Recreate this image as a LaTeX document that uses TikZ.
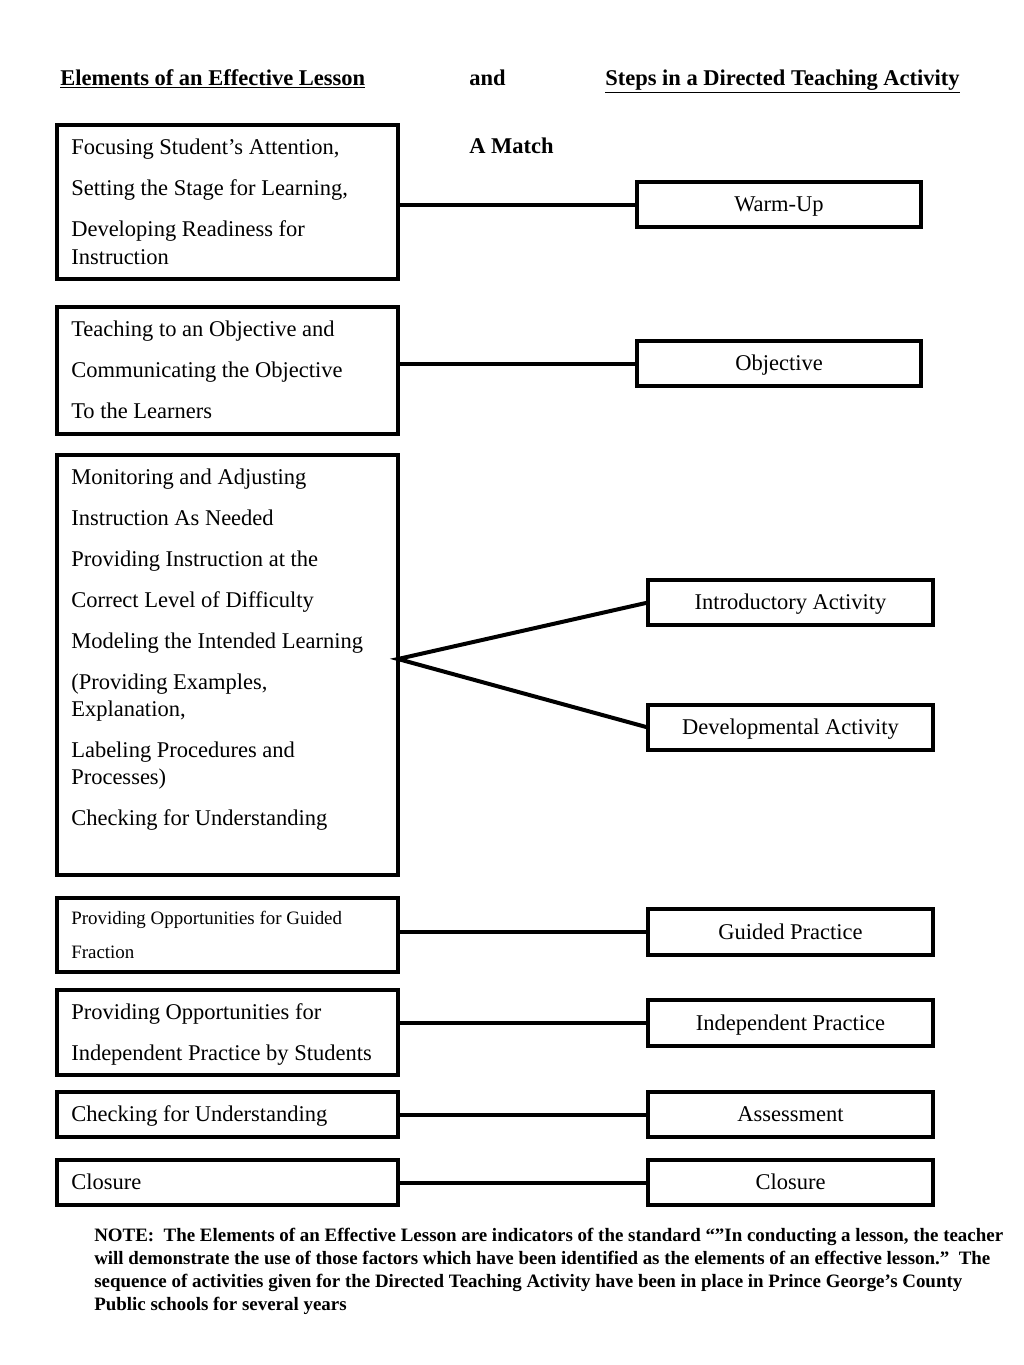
\documentclass[tikz,border=0pt]{standalone}
\usepackage{fontspec}
\setmainfont{Liberation Serif}
\usetikzlibrary{calc}
\begin{document}
\begin{tikzpicture}[x=0.75pt,y=-0.75pt,
  boxst/.style={draw=black, line width=3pt, rectangle, inner sep=0pt, outer sep=0pt},
  rbox/.style={boxst, font=\fontsize{16.875pt}{20.25pt}\selectfont, text height=13pt, text depth=2pt},
  txt/.style={anchor=base west, inner sep=0pt, font=\fontsize{16.875pt}{20.25pt}\selectfont},
  smalltxt/.style={anchor=base west, inner sep=0pt, font=\fontsize{14.2pt}{17pt}\selectfont},
  head/.style={anchor=base west, inner sep=0pt, font=\fontsize{16.875pt}{20.25pt}\selectfont\bfseries},
  note/.style={anchor=base west, inner sep=0pt, font=\fontsize{14.2pt}{17.25pt}\selectfont\bfseries},
  conn/.style={line width=3pt}]
\useasboundingbox (0,0) rectangle (1024,1365);
\fill[white] (0,0) rectangle (1024,1365);
\newcommand\mybox[6]{\node[#6, minimum width={(#4-#2)*0.75pt}, minimum height={(#5-#3)*0.75pt}] (#1) at ({(#2+#4)/2},{(#3+#5)/2}) {};}
\newcommand\mylbl[7]{\node[#6, minimum width={(#4-#2)*0.75pt}, minimum height={(#5-#3)*0.75pt}] (#1) at ({(#2+#4)/2},{(#3+#5)/2}) {#7};}
\newcommand\tline[5]{\node[#5] (#1) at (#2,#3) {#4};}

% headers
\tline{h1}{60}{85}{\underline{Elements of an Effective Lesson}}{head}
\tline{h2}{469}{85}{and}{head}
\tline{h3}{605}{85}{\underline{Steps in a Directed Teaching Activity}}{head}
\tline{h4}{469}{153}{A Match}{head}

% left boxes
\mybox{b1}{57}{125}{398}{279}{boxst}
\mybox{b2}{57}{307}{398}{434}{boxst}
\mybox{b3}{57}{455}{398}{875}{boxst}
\mybox{b4}{57}{898}{398}{972}{boxst}
\mybox{b5}{57}{990}{398}{1075}{boxst}
\mybox{b6}{57}{1092}{398}{1137}{boxst}
\mybox{b7}{57}{1160}{398}{1205}{boxst}

% left texts
\tline{t11}{71}{154}{Focusing Student’s Attention,}{txt}
\tline{t12}{71}{195}{Setting the Stage for Learning,}{txt}
\tline{t13}{71}{236}{Developing Readiness for}{txt}
\tline{t14}{71}{264}{Instruction}{txt}
\tline{t21}{71}{336}{Teaching to an Objective and}{txt}
\tline{t22}{71}{377}{Communicating the Objective}{txt}
\tline{t23}{71}{418}{To the Learners}{txt}
\tline{t31}{71}{484}{Monitoring and Adjusting}{txt}
\tline{t32}{71}{525}{Instruction As Needed}{txt}
\tline{t33}{71}{566}{Providing Instruction at the}{txt}
\tline{t34}{71}{607}{Correct Level of Difficulty}{txt}
\tline{t35}{71}{648}{Modeling the Intended Learning}{txt}
\tline{t36}{71}{689}{(Providing Examples,}{txt}
\tline{t37}{71}{716}{Explanation,}{txt}
\tline{t38}{71}{757}{Labeling Procedures and}{txt}
\tline{t39}{71}{784}{Processes)}{txt}
\tline{t310}{71}{825}{Checking for Understanding}{txt}
\tline{t41}{71}{924}{Providing Opportunities for Guided}{smalltxt}
\tline{t42}{71}{958}{Fraction}{smalltxt}
\tline{t51}{71}{1019}{Providing Opportunities for}{txt}
\tline{t52}{71}{1060}{Independent Practice by Students}{txt}
\tline{t61}{71}{1121}{Checking for Understanding}{txt}
\tline{t71}{71}{1189}{Closure}{txt}

% right boxes
\mylbl{r1}{637}{182}{921}{227}{rbox}{Warm-Up}
\mylbl{r2}{637}{341}{921}{386}{rbox}{Objective}
\mylbl{r3}{648}{580}{933}{625}{rbox}{Introductory Activity}
\mylbl{r4}{648}{705}{933}{750}{rbox}{Developmental Activity}
\mylbl{r5}{648}{909}{933}{955}{rbox}{Guided Practice}
\mylbl{r6}{648}{1000}{933}{1046}{rbox}{Independent Practice}
\mylbl{r7}{648}{1092}{933}{1137}{rbox}{Assessment}
\mylbl{r8}{648}{1160}{933}{1205}{rbox}{Closure}

% connectors
\draw[conn] (r1.west -| b1.east) -- (r1.west);
\draw[conn] (r2.west -| b2.east) -- (r2.west);
\coordinate (b3c) at ($(b3.east)+(0,-6)$);
\draw[conn] (r3.west) -- (b3c) -- (r4.west);
\draw[conn] (r5.west -| b4.east) -- (r5.west);
\draw[conn] (r6.west -| b5.east) -- (r6.west);
\draw[conn] (b6.east) -- (r7.west);
\draw[conn] (b7.east) -- (r8.west);

% note
\tline{n1}{94}{1241}{NOTE:\ \ The Elements of an Effective Lesson are indicators of the standard “”In conducting a lesson, the teacher}{note}
\tline{n2}{94}{1264}{will demonstrate the use of those factors which have been identified as the elements of an effective lesson.”\ \ The}{note}
\tline{n3}{94}{1287}{sequence of activities given for the Directed Teaching Activity have been in place in Prince George’s County}{note}
\tline{n4}{94}{1310}{Public schools for several years}{note}
\end{tikzpicture}
\end{document}
